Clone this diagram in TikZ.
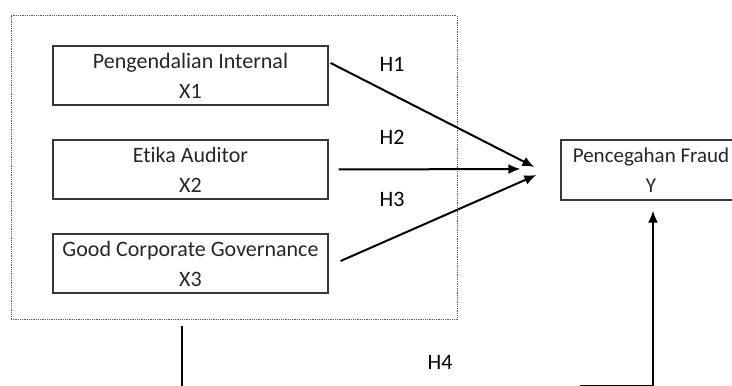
\documentclass[tikz,border=0pt]{standalone}
\usepackage{fontspec}
\setmainfont[Ligatures=NoCommon]{Carlito}
\usetikzlibrary{arrows.meta}
\definecolor{txt}{HTML}{262626}
\definecolor{bord}{HTML}{383838}
\tikzset{
  varbox/.style={draw=bord, line width=1.2pt, minimum width=275pt, minimum height=59pt,
    inner sep=0pt, align=center, text=txt, font=\fontsize{22}{30}\selectfont},
  grpbox/.style={draw=black!65, line width=1pt, dash pattern=on 1pt off 0.8pt,
    minimum width=446pt, minimum height=304pt, inner sep=0pt},
  hlab/.style={font=\fontsize{22}{24}\selectfont, text=black},
  conn/.style={line width=2pt, black},
  arr/.style={conn, -{Latex[length=12pt,width=10pt]}},
}
\begin{document}
\begin{tikzpicture}[x=1pt,y=1pt]
\useasboundingbox (0,0) rectangle (732,386);
\clip (0,0) rectangle (732,386);
\node[grpbox] (grp) at (234,218) {};
\node[varbox] (x1) at (190.5,310.5) {Pengendalian Internal\\X1};
\node[varbox] (x2) at (190.5,216.5) {Etika Auditor\\X2};
\node[varbox] (x3) at (190.5,122.5) {Good Corporate Governance\\X3};
\node[varbox, minimum width=180pt, minimum height=60pt, font=\fontsize{21}{30}\selectfont] (y) at (651,216) {Pencegahan Fraud\\Y};
\node[hlab] (h1) at (392,322) {H1};
\node[hlab] (h2) at (392,249) {H2};
\node[hlab] (h3) at (392,187) {H3};
\node[hlab] (h4) at (440,24) {H4};
\coordinate (t1) at ([xshift=-26pt,yshift=3pt]y.west);
\coordinate (t2) at ([xshift=-40pt,yshift=1pt]y.west);
\coordinate (t3) at ([xshift=-24pt,yshift=-5pt]y.west);
\draw[arr] ([xshift=2pt,yshift=12.5pt]x1.east) -- (t1);
\draw[arr] ([xshift=10pt]x2.east) -- (t2);
\draw[arr] ([xshift=12pt,yshift=2.5pt]x3.east) -- (t3);
\coordinate (l1) at ([xshift=-52pt,yshift=-6pt]grp.south);
\coordinate (l2) at (l1 |- 0,-2);
\draw[conn] (l1) -- (l2);
\coordinate (hb) at (580,0.3);
\coordinate (b2) at ([xshift=2pt]y.south |- hb);
\draw[arr] (hb) -- (b2) -- ([xshift=2pt,yshift=-10pt]y.south);
\end{tikzpicture}
\end{document}
